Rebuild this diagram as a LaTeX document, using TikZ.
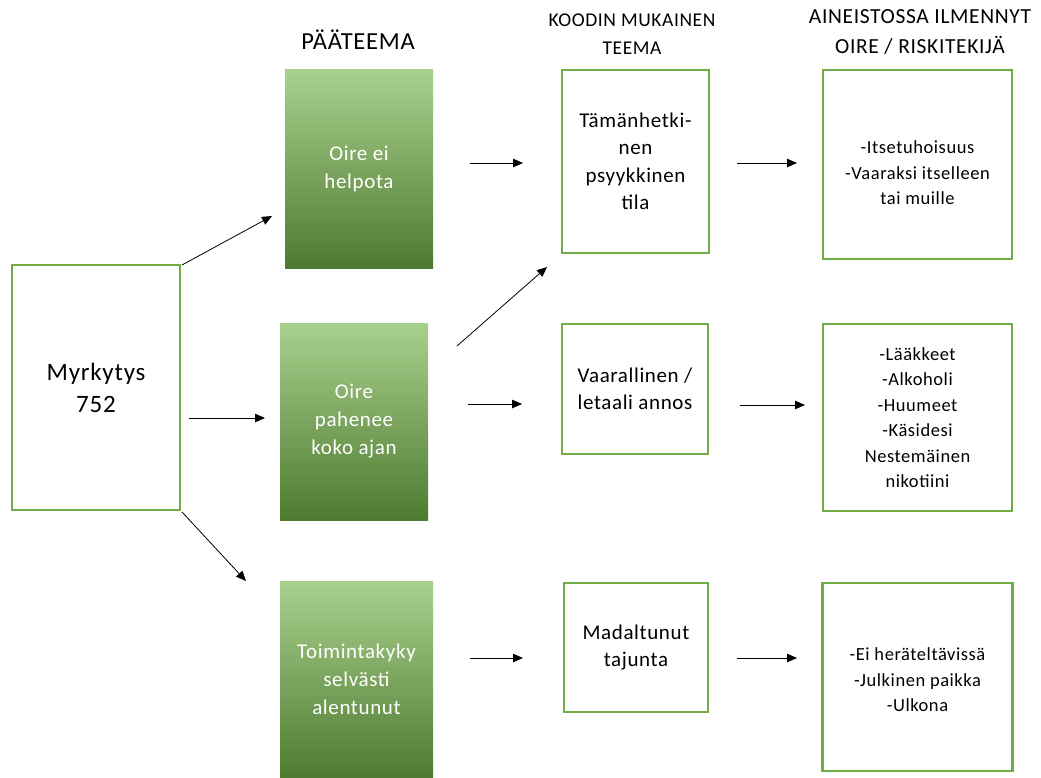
\documentclass[tikz,border=0pt]{standalone}
\usepackage{fontspec}
\setmainfont{Carlito}[LetterSpace=3]
\usetikzlibrary{arrows.meta}
\definecolor{gborder}{HTML}{70AD47}
\definecolor{gtop}{HTML}{A9D18E}
\definecolor{gmid}{HTML}{70AD47}
\definecolor{gbot}{HTML}{4E7A30}
\begin{document}
\begin{tikzpicture}[x=1pt,y=-1pt,
  box/.style={draw=gborder, line width=2.5pt, fill=white, inner sep=0pt, align=center},
  gbox/.style={shading=axis, top color=gtop, middle color=gmid, bottom color=gbot,
    inner sep=0pt, text=white, align=center, font=\fontsize{21}{28}\selectfont},
  midtxt/.style={font=\fontsize{21}{27.5}\selectfont},
  righttxt/.style={font=\fontsize{18.5}{25.5}\selectfont},
  hdr/.style={align=center, inner sep=0pt},
  arr/.style={draw=black, line width=0.8pt, -{Triangle[length=10pt,width=8.5pt]}}
]
\useasboundingbox (0,0) rectangle (1041,778);

% headers
\node[hdr, font=\fontsize{24.5}{28}\selectfont] (h1) at (358,40) {PÄÄTEEMA};
\node[hdr, font=\fontsize{19.5}{28}\selectfont] (h2) at (632,34) {KOODIN MUKAINEN\\TEEMA};
\node[hdr, font=\fontsize{21.5}{30}\selectfont] (h3) at (920,32) {AINEISTOSSA ILMENNYT\\OIRE / RISKITEKIJÄ};

% left box
\node[box, minimum width=168pt, minimum height=245pt, font=\fontsize{25}{32}\selectfont] (myr) at (96,387.5) {Myrkytys\\752};

% green theme boxes
\node[gbox, minimum width=148pt, minimum height=198pt] (g1) at (359,169) {Oire ei\\helpota};
\node[gbox, minimum width=148pt, minimum height=197pt] (g2) at (354,421.5) {Oire\\pahenee\\koko ajan};
\node[gbox, minimum width=153pt, minimum height=197pt] (g3) at (356.5,679.5) {Toimintakyky\\selvästi\\alentunut};

% middle boxes
\node[box, midtxt, minimum width=147pt, minimum height=183pt] (a) at (635.5,161.5) {Tämänhetki-\\nen\\psyykkinen\\tila};
\node[box, midtxt, minimum width=146pt, minimum height=130pt] (b) at (635,389) {Vaarallinen /\\letaali annos};
\node[box, midtxt, minimum width=144pt, minimum height=129pt] (c) at (636,647.5) {Madaltunut\\tajunta};

% right boxes
\node[box, righttxt, minimum width=189pt, minimum height=189pt] (r1) at (917.5,164.5) {\rule{0pt}{30pt}-Itsetuhoisuus\\-Vaaraksi itselleen\\tai muille};
\node[box, righttxt, minimum width=189pt, minimum height=187pt] (r2) at (917.5,417.5) {-Lääkkeet\\-Alkoholi\\-Huumeet\\-Käsidesi\\Nestemäinen\\nikotiini};
\node[box, righttxt, minimum width=190pt, minimum height=188pt] (r3) at (917.5,677) {\rule{0pt}{19pt}-Ei heräteltävissä\\-Julkinen paikka\\-Ulkona};

% arrow end points
\coordinate (m1s) at (182,265);  \coordinate (m1e) at (272,216);
\coordinate (m2s) at (189,418);  \coordinate (m2e) at (265,418);
\coordinate (m3s) at (182,512);  \coordinate (m3e) at (246,581);
\coordinate (g1s) at (470,163);  \coordinate (g1e) at (523,163);
\coordinate (g2as) at (457,346); \coordinate (g2ae) at (547,267);
\coordinate (g2bs) at (468,404); \coordinate (g2be) at (522,404);
\coordinate (g3s) at (470,658);  \coordinate (g3e) at (523,658);
\coordinate (as) at (737,163);   \coordinate (ae) at (797,163);
\coordinate (bs) at (740,405);   \coordinate (be) at (805,405);
\coordinate (cs) at (737,658);   \coordinate (ce) at (797,658);

\draw[arr] (m1s) -- (m1e);
\draw[arr] (m2s) -- (m2e);
\draw[arr] (m3s) -- (m3e);
\draw[arr] (g1s) -- (g1e);
\draw[arr] (g2as) -- (g2ae);
\draw[arr] (g2bs) -- (g2be);
\draw[arr] (g3s) -- (g3e);
\draw[arr] (as) -- (ae);
\draw[arr] (bs) -- (be);
\draw[arr] (cs) -- (ce);
\end{tikzpicture}
\end{document}
